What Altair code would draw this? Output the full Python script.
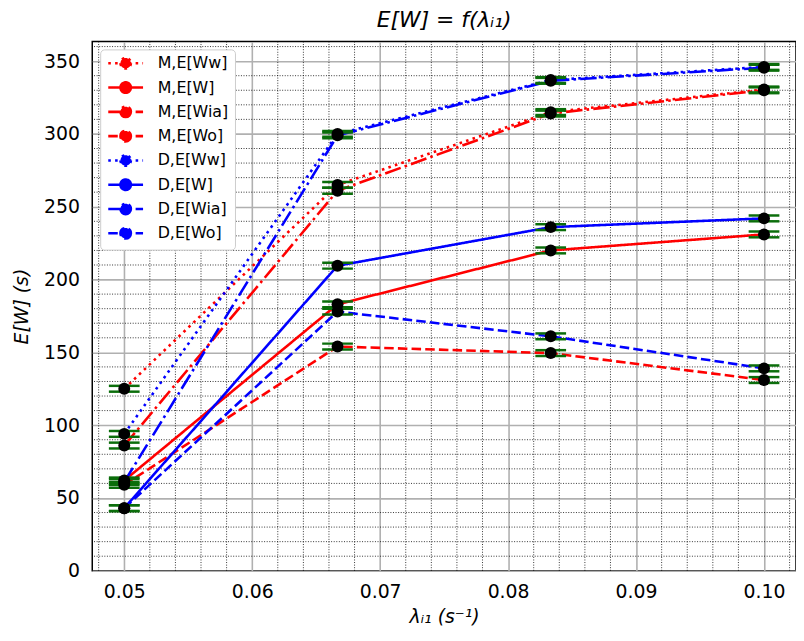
import altair as alt
import pandas as pd

# ---- data ----
x_vals = [0.05, 0.06667, 0.08333, 0.1]
series_names = ["M,E[Ww]", "M,E[W]", "M,E[Wia]", "M,E[Wo]",
                "D,E[Ww]", "D,E[W]", "D,E[Wia]", "D,E[Wo]"]
m_ww = [125.0, 265.0, 315.0, 330.5]
m_w = [62.0, 183.0, 220.0, 231.0]
m_wia = [86.0, 261.0, 314.0, 330.0]
m_wo = [59.0, 154.0, 149.5, 131.0]
d_ww = [94.0, 300.0, 337.0, 346.0]
d_w = [43.0, 209.5, 236.0, 242.0]
d_wia = [61.0, 299.0, 336.5, 345.5]
d_wo = [43.0, 178.0, 161.0, 139.0]
half_ci = [2.0, 2.0, 2.0, 2.0]

x_major = [0.05, 0.06, 0.07, 0.08, 0.09, 0.10]
y_major = [0, 50, 100, 150, 200, 250, 300, 350]
x_minor = [0.048, 0.052, 0.054, 0.056, 0.058, 0.062, 0.064, 0.066, 0.068,
           0.072, 0.074, 0.076, 0.078, 0.082, 0.084, 0.086, 0.088,
           0.092, 0.094, 0.096, 0.098, 0.102]
y_minor = [10, 20, 30, 40, 60, 70, 80, 90, 110, 120, 130, 140, 160, 170, 180, 190,
           210, 220, 230, 240, 260, 270, 280, 290, 310, 320, 330, 340, 360]

series_colors = ["#ff0000"] * 4 + ["#0000ff"] * 4
dot, solid, dashdot, dashed = [2.6, 4.3], [1, 0], [16.6, 4.2, 2.6, 4.2], [9.6, 4.2]
series_dash = [dot, solid, dashdot, dashed] * 2

all_vals = [m_ww, m_w, m_wia, m_wo, d_ww, d_w, d_wia, d_wo]
rows = []
for name, vals in zip(series_names, all_vals):
    for xv, yv, e in zip(x_vals, vals, half_ci):
        rows.append({"series": name, "x": xv, "y": yv, "lo": yv - e, "hi": yv + e})
df = pd.DataFrame(rows)
df_xminor = pd.DataFrame({"x": x_minor})
df_yminor = pd.DataFrame({"y": y_minor})

FONT = "DejaVu Sans"
xscale = alt.Scale(domain=[0.0475, 0.1025], nice=False, zero=False)
yscale = alt.Scale(domain=[0, 363.5], nice=False, zero=False)

xaxis = alt.Axis(values=x_major, format=".2f", title="λᵢ₁ (s⁻¹)",
                 titleFontStyle="italic", titleFontWeight="normal")
yaxis = alt.Axis(values=y_major, format="d", title="E[W] (s)",
                 titleFontStyle="italic", titleFontWeight="normal")

minor_x = alt.Chart(df_xminor).mark_rule(color="black", strokeWidth=0.8,
                                          strokeDash=[1, 1.6]).encode(
    x=alt.X("x:Q", scale=xscale, axis=xaxis))
minor_y = alt.Chart(df_yminor).mark_rule(color="black", strokeWidth=0.8,
                                          strokeDash=[1, 1.6]).encode(
    y=alt.Y("y:Q", scale=yscale, axis=yaxis))

legend_path = ("M-1,0L5,0M2.9,0A0.9,0.9,0,1,1,1.1,0A0.9,0.9,0,1,1,2.9,0Z")
leg = alt.Legend(title=None, orient="top-left", offset=8, fillColor="white",
                 strokeColor="#cccccc", cornerRadius=4, padding=6,
                 labelFont=FONT, labelFontSize=16, symbolType=legend_path,
                 symbolSize=137, symbolStrokeWidth=2.6, labelOffset=36,
                 rowPadding=2.5, zindex=1)

color_scale = alt.Scale(domain=series_names, range=series_colors)

lines = alt.Chart(df).mark_line(strokeWidth=2.6, strokeCap="butt").encode(
    x=alt.X("x:Q", scale=xscale, axis=xaxis),
    y=alt.Y("y:Q", scale=yscale, axis=yaxis),
    color=alt.Color("series:N", scale=color_scale, legend=leg),
    strokeDash=alt.StrokeDash("series:N", scale=alt.Scale(domain=series_names, range=series_dash),
                              legend=leg),
    detail="series:N",
)

markers = alt.Chart(df).mark_point(filled=True, size=40, opacity=1).encode(
    x=alt.X("x:Q", scale=xscale), y=alt.Y("y:Q", scale=yscale),
    fill=alt.Fill("series:N", scale=color_scale, legend=leg),
)

green = "#0b6e0b"
caps_lo = alt.Chart(df).mark_tick(orient="horizontal", size=31, thickness=2.5,
                                  color=green, opacity=1).encode(
    x=alt.X("x:Q", scale=xscale), y=alt.Y("lo:Q", scale=yscale))
caps_hi = alt.Chart(df).mark_tick(orient="horizontal", size=31, thickness=2.5,
                                  color=green, opacity=1).encode(
    x=alt.X("x:Q", scale=xscale), y=alt.Y("hi:Q", scale=yscale))
pts = alt.Chart(df).mark_circle(size=145, color="black", opacity=1).encode(
    x=alt.X("x:Q", scale=xscale), y=alt.Y("y:Q", scale=yscale))

chart = alt.layer(minor_x, minor_y, lines, markers, caps_lo, caps_hi, pts).properties(
    width=710, height=534,
    title=alt.TitleParams("E[W] = f(λᵢ₁)", font=FONT, fontSize=22, fontStyle="italic",
                          fontWeight="normal", offset=9, anchor="middle"),
    autosize="none",
    padding={"left": 85, "top": 31, "right": 0, "bottom": 60},
).configure_axis(
    labelFont=FONT, labelFontSize=19, labelColor="black",
    titleFont=FONT, titleFontSize=19, titleColor="black",
    gridColor="#b0b0b0", gridWidth=1.6, gridOpacity=1,
    domain=False, ticks=False,
).configure_axisY(labelPadding=13, titlePadding=12).configure_axisX(
    labelPadding=12, titlePadding=6).configure_view(
    stroke="black", strokeWidth=1.5
)

chart.save("out.html", embed_options={"renderer": "svg", "actions": False})
